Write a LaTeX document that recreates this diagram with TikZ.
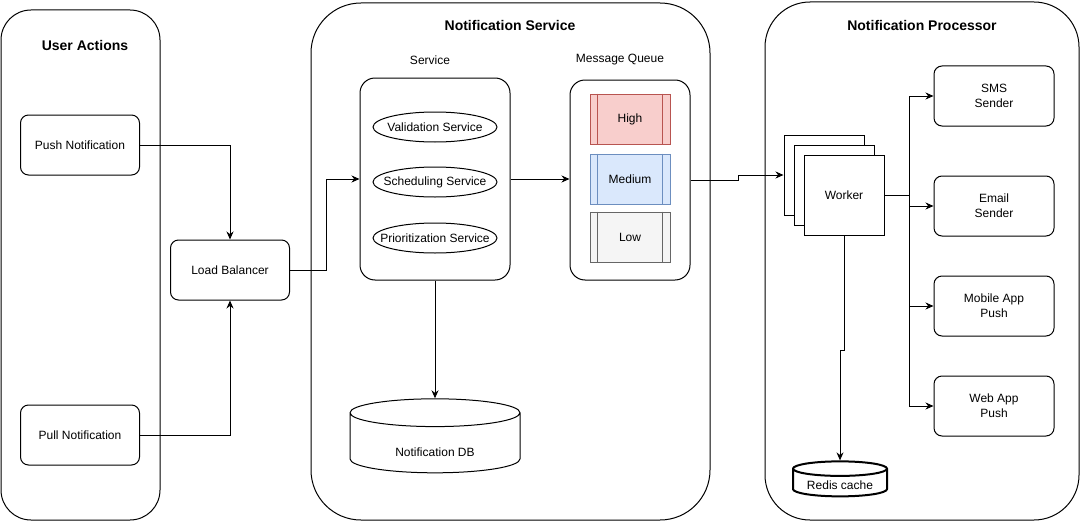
\documentclass[tikz,border=0pt]{standalone}
\usepackage{fontspec}
\setmainfont{Liberation Sans}
\usetikzlibrary{shapes.geometric,arrows.meta,positioning}
\definecolor{highfill}{HTML}{F8CECC}
\definecolor{highline}{HTML}{B85450}
\definecolor{mediumfill}{HTML}{DAE8FC}
\definecolor{mediumline}{HTML}{6C8EBF}
\definecolor{lowfill}{HTML}{F5F5F5}
\definecolor{lowline}{HTML}{666666}

\begin{document}
\begin{tikzpicture}[x=1pt,y=-1pt]
\tikzstyle{every node}=[font=\fontsize{12}{15}\selectfont,line width=1pt,inner sep=0pt]
\tikzstyle{group}=[draw,rounded corners=30pt]
\tikzstyle{grouptitle}=[font=\fontsize{14}{16}\selectfont\bfseries]
\tikzstyle{box}=[draw,rounded corners=8pt,minimum width=119,minimum height=60,align=center]
\tikzstyle{substep}=[draw,ellipse,inner xsep=-20pt,minimum width=124,minimum height=30]
\tikzstyle{queue}=[draw,minimum width=80,minimum height=50]
\tikzstyle{store}=[draw,cylinder,shape border rotate=90]
\tikzstyle{worker}=[draw,fill=white,minimum width=80,minimum height=80]
\tikzstyle{link}=[line width=1pt,-{Stealth[length=8pt,width=7pt]}]
\useasboundingbox (0,0) rectangle (1081,527);

% containers
\node[group,minimum width=159,minimum height=510] (users) at (80.5,265) {};
\node[group,rounded corners=50pt,minimum width=399,minimum height=517] (nservice) at (510.5,261.5) {};
\node[group,rounded corners=45pt,minimum width=314,minimum height=518] (nproc) at (922,261) {};
\node[grouptitle] (userstitle) at (85,45) {User Actions};
\node[grouptitle] (nservicetitle) at (510,25) {Notification Service};
\node[grouptitle] (nproctitle) at (922,25) {Notification Processor};

% user actions
\node[box] (push) at (80,145) {Push Notification};
\node[box] (pull) at (80,435) {Pull Notification};
\node[box] (lb) at (230,270) {Load Balancer};

% notification service
\node (servicelabel) at (430,60) {Service};
\node[draw,rounded corners=15pt,minimum width=150,minimum height=202] (service) at (435,179) {};
\node[substep] (validation) at (435,127) {Validation Service};
\node[substep] (scheduling) at (435,182) {Scheduling Service};
\node[substep] (prioritization) at (435,238) {Prioritization Service};

\node (mqlabel) at (620,60) {Message Queue};
\node[draw,rounded corners=15pt,minimum width=120,minimum height=200] (mq) at (630,180) {};
\node[queue,fill=highfill,draw=highline] (high) at (630,119) {High};
\node[queue,fill=mediumfill,draw=mediumline] (medium) at (630,179) {Medium};
\node[queue,fill=lowfill,draw=lowline] (low) at (630,237) {Low};
\foreach \q in {high,medium,low}{
  \draw[\q line,line width=1pt] ([xshift=8pt]\q.north west) -- ([xshift=8pt]\q.south west);
  \draw[\q line,line width=1pt] ([xshift=-8pt]\q.north east) -- ([xshift=-8pt]\q.south east);
}

\node[store,shape aspect=0.35,minimum width=170,minimum height=74] (db) at (435,443)
  {\raisebox{-13pt}[0pt][0pt]{Notification DB}};

% notification processor
\node[worker] (worker3) at (824,175) {};
\node[worker] (worker2) at (834,185) {};
\node[worker] (worker) at (844,195) {Worker};

\node[box,minimum width=120] (sms) at (994,96) {SMS\\Sender};
\node[box,minimum width=120] (email) at (994,206) {Email\\Sender};
\node[box,minimum width=120] (mobile) at (994,306) {Mobile App\\Push};
\node[box,minimum width=120] (web) at (994,406) {Web App\\Push};

\node[store,shape aspect=0.22,line width=2pt,minimum width=94,minimum height=35] (redis) at (840,483)
  {\raisebox{-6pt}[0pt][0pt]{Redis cache}};

% connectors
\draw[link] (push.east) -| (lb.north);
\draw[link] (pull.east) -| (lb.south);
\draw[link] (lb.east) -- ++(36,0) |- (service.west);
\draw[link] (service.east) -- (service.east -| mq.west);
\draw[link] (service.south) -- (db.north);
\draw[link] (mq.east) -- ++(48,0) |- (worker3.west);
\draw[line width=1pt] (worker.east) -- ++(25,0) coordinate (bus);
\foreach \s in {sms,email,mobile,web}{
  \draw[link] (bus) |- (\s.west);
}
\draw[link] (worker.south) -- ++(0,115) -| (redis.north);
\end{tikzpicture}
\end{document}
